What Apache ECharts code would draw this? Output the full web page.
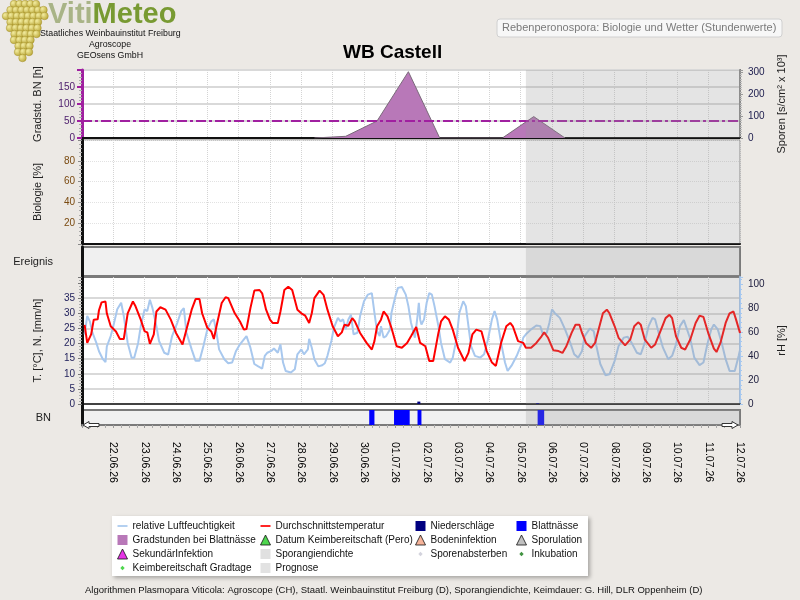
<!DOCTYPE html>
<html>
<head>
<meta charset="utf-8">
<title>WB Castell</title>
<script src="https://cdn.jsdelivr.net/npm/echarts@6/dist/echarts.min.js"></script>
<style>
  html, body { margin: 0; padding: 0; background: #ece9e5; }
  #chart { width: 800px; height: 600px; }
</style>
</head>
<body>
<div id="chart"></div>
<script>
// Zeitachse: Stunden ab 21.06.26 00:00
const START = Date.UTC(2026, 5, 21);
const TOTAL_HOURS = 504;
const FORECAST_START = 340;   // Prognose ab 05.07.26 ~04:00

// Durchschnittstemperatur [°C]  [stunde, wert]
const temperature = [
  [2,26.2],[4,20.2],[7,23],[9,27.9],[12,28],[13,31],[15,33.6],[18,33.9],[19,30],[22,25.7],
  [26,24],[29,21.5],[32,21.5],[35,30],[39,33.9],[41,32.3],[45,27.9],[48,24],[50,23.7],[52,19.9],
  [55,23],[57,30.6],[60,32],[64,31.2],[68,27.9],[72,23.5],[77,19.7],[80,24.6],[84,31.2],[87,34.7],
  [90,34.7],[92,30],[96,25.2],[99,24],[101,21.5],[103,25.7],[107,33.4],[110,35.3],[112,35],[117,30],
  [121,27.3],[124,24.6],[126,24.8],[129,31.7],[132,37.5],[136,37.7],[138,36.6],[141,31.2],[144,27.9],[146,26.8],
  [150,26.8],[152,30.6],[155,37.7],[158,38.8],[161,37.7],[165,31.2],[168,30],
  [171,29.2],[174,26.8],[176,30],[178,35],[182,37.5],[185,36.1],[188,31.2],[192,25.7],[196,22.4],[199,23.7],
  [201,26.2],[204,25.9],[207,28.4],[209,27.3],[213,23.5],[218,20.2],[222,18],[224,20.8],[226,25.7],[229,27.9],
  [231,30.6],[234,29],[237,25.2],[241,19.1],[245,18.6],[249,20.2],[252,22.4],[256,25.5],[259,20.2],[263,19.1],
  [266,14.2],[269,14.2],[273,23.5],[275,27.3],[278,29],[281,27.9],[284,24.6],[288,18.6],[293,14.2],[296,16.9],
  [299,23],[302,24.6],[306,24],[310,17.5],[314,13.7],[317,12.6],[321,20.2],[325,25.7],[328,26.8],[330,25.7],
  [334,20.8],[338,20.2],
  [340,18.6],[344,18.6],[348,20.2],[352,22.4],[354,23.7],[357,21.9],[361,17.8],[365,17.5],[368,16.9],[371,19.1],
  [375,23.5],[378,26.2],[381,26.2],[383,23.5],[386,20.2],[390,18.6],[393,20.2],[397,26.8],[399,30],[402,31.2],
  [404,30],[408,25.7],[411,21.9],[416,19.4],[420,21.4],[423,25.7],[426,27],[428,26.2],[431,21.4],[436,18.6],
  [439,19.7],[443,24],[447,28.4],[450,29.5],[452,28.4],[455,22.4],[459,18.6],[462,18],[466,21.4],[470,26.8],
  [473,29.2],[476,28.8],[480,23],[484,18.3],[486,17.2],[489,20.2],[493,26.8],[496,30],[499,30.6],[501,27.9],
  [504,23.5]
];

// relative Luftfeuchtigkeit [%]  [stunde, wert]
const humidity = [
  [2,58],[4,73.5],[6,69],[8,59.5],[11,51],[13,44],[16,37.4],[18,35],[19,48],[22,56.7],
  [24,65],[27,79],[30,84.5],[32,73.4],[35,51],[38,38.7],[40,38.7],[43,51],[45,65],[48,79],
  [50,77.5],[52,87],[54,80],[57,65],[59,52.6],[63,42.8],[66,41.3],[69,56.7],[73,67.8],[76,77.5],
  [78,80],[80,59.5],[84,45.6],[87,36],[90,36],[93,48.4],[96,62.3],[99,69],[101,70.6],[103,59.5],
  [105,45.6],[109,37.4],[112,34],[115,34.6],[118,44.3],[121,49.8],[124,54],[126,56.7],[129,47],[132,33.4],
  [135,31.4],[138,29.6],[140,40.2],[142,42.8],[145,44.3],[147,46.3],[150,42.8],[152,49.8],[154,34.6],[156,27.6],
  [160,26.3],[163,29],[165,41.5],[168,45.6],
  [170,41.5],[173,45.6],[174,54.4],[176,47],[178,37.4],[181,31.4],[184,32.4],[186,34],[188,40.2],[191,52.6],
  [193,63.8],[196,71.9],[198,69],[200,70.6],[202,62.3],[204,70.6],[206,74.6],[208,58.2],[211,59.5],[213,73.4],
  [216,85.8],[219,91.3],[222,92.6],[224,76],[226,60.7],[228,56.7],[229,65],[231,55.4],[233,56.7],[236,62.3],
  [237,76],[240,89.8],[242,96.9],[245,97.7],[248,91.3],[250,81.7],[252,67.8],[255,55.4],[257,73.4],[258,84.5],
  [259,70.6],[260,66.3],[262,70.6],[264,84.5],[266,92.6],[268,91.3],[270,81.7],[273,65],[275,51],[278,37.4],
  [282,34.6],[284,38.7],[287,55.4],[289,76],[292,85.8],[294,81.7],[296,65],[298,48.4],[301,40.2],[305,38.7],
  [308,41.5],[311,54],[314,70.6],[316,77.5],[318,70.6],[321,51],[324,34.6],[326,27.6],[329,32],[333,40.2],
  [337,51],
  [338,55.4],[340,58.2],[344,62.3],[348,65.5],[351,65],[353,58.2],[356,59.5],[358,67.8],[360,79],[362,76],
  [366,71.9],[370,62.3],[374,51],[377,41.5],[380,38.7],[383,44.3],[385,56.7],[389,63],[392,60.7],[394,48.4],
  [397,33.4],[401,24],[404,24.8],[408,36],[411,48.4],[415,55.4],[418,56.2],[421,51],[425,42.8],[428,41.5],
  [431,51],[434,65],[437,71.9],[439,70.6],[442,58.2],[445,47],[449,37.4],[452,40.2],[455,49.8],[458,65],
  [461,70],[462,69],[466,54],[469,38.7],[473,32.4],[476,34.6],[479,49.8],[482,62.3],[484,66.3],[487,62.3],
  [490,51],[493,37.4],[496,27.6],[500,27.6],[503,40.2],[504,45]
];

// Niederschläge [mm/h]
const rain = [[258, 0.8], [349, 0.3]];

// Blattnässe: [von stunde, bis stunde, 1]
const leafWetness = [[220, 224, 1], [239, 251, 1], [257, 260, 1], [349, 354, 1]];

// Gradstunden bei Blattnässe [h], täglich
const degreeHours = [[178,0],[202,5],[226,50],[250,195],[274,0],[298,0],[322,0],[346,63],[370,0]];
const infectionThreshold = 50;

const FONT = 'Liberation Sans, Arial, sans-serif';

function dateLabel(h) {
  const d = new Date(START + h * 3600000);
  const p = n => String(n).padStart(2, '0');
  return p(d.getUTCDate()) + '.' + p(d.getUTCMonth() + 1) + '.' + String(d.getUTCFullYear()).slice(2);
}

function xAxisFor(i, extra) {
  return Object.assign({
    type: 'value', gridIndex: i, min: 0, max: TOTAL_HOURS, interval: 24,
    axisLine: {show: false},
    axisTick: {show: false},
    axisLabel: {show: false},
    splitLine: {show: true, lineStyle: {color: '#d4d4d4', type: 'dotted', width: 1}}
  }, extra || {});
}

const leftName = {fontSize: 11, color: '#222', fontFamily: FONT};

// Prognose-Bereich als halbtransparente Fläche über dem jeweiligen Panel
function forecastOverlay(xi, yi) {
  return {
    type: 'custom', name: 'Prognose', xAxisIndex: xi, yAxisIndex: yi, z: 20, silent: true,
    data: [[FORECAST_START, TOTAL_HOURS, 0]],
    encode: {x: [0, 1], y: 2},
    renderItem: (params, api) => {
      const x0 = api.coord([api.value(0), 0])[0];
      const x1 = api.coord([api.value(1), 0])[0];
      const cs = params.coordSys;
      return {
        type: 'rect',
        shape: {x: x0, y: cs.y, width: x1 - x0, height: cs.height},
        style: {fill: 'rgba(150,150,150,0.26)'}
      };
    }
  };
}

function emptySeries(name) {
  return {type: 'scatter', name, xAxisIndex: 2, yAxisIndex: 3, data: []};
}

const lineIcon = 'path://M0,0H14V2.4H0Z';
const dotIcon = 'path://M0,0M10,10M5,2.8L7.2,5L5,7.2L2.8,5Z';
const tri = (color) => ({icon: 'triangle', itemStyle: {color, borderColor: '#111', borderWidth: 1}});

function legendCol(left, items) {
  return {
    orient: 'vertical', left, top: 519, padding: 0, itemWidth: 10, itemHeight: 10, itemGap: 0,
    selectedMode: false,
    textStyle: {fontSize: 10, color: '#111', fontFamily: FONT, lineHeight: 14},
    data: items
  };
}

// Weintrauben-Logo (Deko)
const grapes = [];
const rows = [[4, 12, 36], [10, 6, 42], [16, 4, 43], [22, 6, 41], [28, 8, 38], [34, 10, 35],
              [40, 12, 32], [46, 14, 30], [52, 16, 28], [58, 18, 25]];
rows.forEach(([y, x0, x1], r) => {
  for (let x = x0 + (r % 2) * 2.5; x <= x1; x += 5.5) {
    grapes.push({
      type: 'circle', shape: {cx: x, cy: y, r: 3.8},
      style: {
        fill: {type: 'radial', x: 0.35, y: 0.35, r: 0.8,
               colorStops: [{offset: 0, color: '#f3eca0'}, {offset: 1, color: '#b09c26'}]},
        stroke: '#9a8418', lineWidth: 0.4
      }
    });
  }
});

const chart = echarts.init(document.getElementById('chart'));

chart.setOption({
  animation: false,
  backgroundColor: '#ece9e5',
  textStyle: {fontFamily: FONT},
  title: {
    text: 'WB Castell', left: 338, top: 38,
    textStyle: {fontSize: 19, fontWeight: 'bold', color: '#000', fontFamily: FONT}
  },
  grid: [
    {left: 82, right: 60, top: 70, height: 68, show: true, backgroundColor: '#fff', borderColor: '#6e6e6e', borderWidth: 2},
    {left: 82, right: 60, top: 140, height: 104, show: true, backgroundColor: '#fff', borderColor: '#8a8a8a', borderWidth: 1},
    {left: 82, right: 60, top: 247, height: 29, show: true, backgroundColor: '#f0f0f0', borderColor: '#7a7a7a', borderWidth: 2},
    {left: 82, right: 60, top: 277, height: 127, show: true, backgroundColor: '#fff', borderColor: '#7a7a7a', borderWidth: 2},
    {left: 82, right: 60, top: 410, height: 15, show: true, backgroundColor: '#f0f0f0', borderColor: '#7a7a7a', borderWidth: 2},
    {left: 82, right: 60, top: 405, height: 4, show: true, backgroundColor: '#fff', borderWidth: 0}
  ],
  xAxis: [
    xAxisFor(0, {axisLine: {show: true, onZero: false, lineStyle: {color: '#111', width: 2}}}),
    xAxisFor(1, {axisLine: {show: true, onZero: false, lineStyle: {color: '#111', width: 2}}}),
    xAxisFor(2, {splitLine: {show: false}}),
    xAxisFor(3, {axisLine: {show: true, onZero: false, lineStyle: {color: '#111', width: 1.5}}}),
    xAxisFor(4, {
      splitLine: {show: false},
      axisLine: {show: true, onZero: false, lineStyle: {color: '#7a7a7a', width: 2}},
      axisTick: {show: true, length: 3, lineStyle: {color: '#999'}},
      minorTick: {show: true, splitNumber: 4, length: 3, lineStyle: {color: '#aaa'}},
      axisLabel: {show: true, rotate: -90, margin: 17, fontSize: 10.5, color: '#000',
                  fontFamily: FONT, formatter: dateLabel, showMinLabel: false}
    }),
    xAxisFor(5, {splitLine: {show: false}})
  ],
  yAxis: [
    { // 0: Gradstunden
      type: 'value', gridIndex: 0, min: 0, max: 200, interval: 50, position: 'left',
      name: 'Gradstd. BN [h]', nameLocation: 'middle', nameGap: 39, nameTextStyle: leftName,
      axisLine: {show: true, lineStyle: {color: '#a020a0', width: 3}},
      axisTick: {show: true, length: 5, lineStyle: {color: '#a020a0', width: 2}},
      minorTick: {show: true, splitNumber: 5, length: 3, lineStyle: {color: '#aaa'}},
      axisLabel: {fontSize: 10, margin: 7, color: '#4a1a6a', formatter: v => (v < 200 ? v : '')},
      splitLine: {show: true, lineStyle: {color: '#d9d9d9', width: 2}}
    },
    { // 1: Sporen
      type: 'value', gridIndex: 0, min: 0, max: 310, interval: 100, position: 'right',
      name: 'Sporen [s/cm² x 10³]', nameLocation: 'middle', nameGap: 36, nameTextStyle: leftName,
      axisLine: {show: true, lineStyle: {color: '#8a8a8a', width: 2}},
      axisTick: {show: true, length: 3, lineStyle: {color: '#999'}},
      minorTick: {show: true, splitNumber: 10, length: 2, lineStyle: {color: '#bbb'}},
      axisLabel: {fontSize: 10, margin: 8, color: '#202050', formatter: v => (v % 100 === 0 ? v : '')},
      splitLine: {show: false}
    },
    { // 2: Biologie
      type: 'value', gridIndex: 1, min: 0, max: 100, interval: 20,
      name: 'Biologie [%]', nameLocation: 'middle', nameGap: 39, nameTextStyle: leftName,
      axisLine: {show: true, lineStyle: {color: '#111', width: 3}},
      axisTick: {show: true, length: 4, lineStyle: {color: '#888'}},
      minorTick: {show: true, splitNumber: 5, length: 3, lineStyle: {color: '#aaa'}},
      axisLabel: {fontSize: 10, margin: 7, color: '#7a4a10', formatter: v => (v > 0 && v < 100 ? v : '')},
      splitLine: {show: true, lineStyle: {color: '#e2e2e2', type: 'dotted'}}
    },
    { // 3: Ereignis
      type: 'value', gridIndex: 2, min: 0, max: 1,
      name: 'Ereignis', nameLocation: 'middle', nameRotate: 0, nameGap: 29,
      nameTextStyle: {fontSize: 11, color: '#222', fontFamily: FONT},
      axisLine: {show: true, lineStyle: {color: '#111', width: 3}},
      axisTick: {show: false}, axisLabel: {show: false}, splitLine: {show: false}
    },
    { // 4: Temperatur / Niederschlag
      type: 'value', gridIndex: 3, min: 0, max: 42, interval: 5,
      name: 'T. [°C], N. [mm/h]', nameLocation: 'middle', nameGap: 39, nameTextStyle: leftName,
      axisLine: {show: true, lineStyle: {color: '#111', width: 3}},
      axisTick: {show: true, length: 4, lineStyle: {color: '#777'}},
      minorTick: {show: true, splitNumber: 5, length: 3, lineStyle: {color: '#aaa'}},
      axisLabel: {fontSize: 10, margin: 7, color: '#1e1e5a', formatter: v => (v <= 35 ? v : '')},
      splitLine: {show: true, lineStyle: {width: 2, color: [
        '#d9d9d9', '#d9d9d9', '#d9d9d9', '#d9d9d9', '#d9d9d9', '#d9d9d9', '#d9d9d9', '#d9d9d9',
        'rgba(0,0,0,0)', 'rgba(0,0,0,0)']}}
    },
    { // 5: rel. Feuchte
      type: 'value', gridIndex: 3, min: 0, max: 106, interval: 20, position: 'right',
      name: 'rH [%]', nameLocation: 'middle', nameGap: 36, nameTextStyle: leftName,
      axisLine: {show: true, lineStyle: {color: '#a8c8ee', width: 2}},
      axisTick: {show: true, length: 3, lineStyle: {color: '#a8c8ee'}},
      minorTick: {show: true, splitNumber: 5, length: 2, lineStyle: {color: '#a8c8ee'}},
      axisLabel: {fontSize: 10, margin: 8, color: '#202040', formatter: v => (v % 20 === 0 && v <= 100 ? v : '')},
      splitLine: {show: false}
    },
    { // 6: Blattnässe
      type: 'value', gridIndex: 4, min: 0, max: 1,
      name: 'BN', nameLocation: 'middle', nameRotate: 0, nameGap: 31,
      nameTextStyle: {fontSize: 11, color: '#222', fontFamily: FONT},
      axisLine: {show: true, lineStyle: {color: '#111', width: 3}},
      axisTick: {show: false}, axisLabel: {show: false}, splitLine: {show: false}
    },
    { // 7: Streifen unter der Nulllinie
      type: 'value', gridIndex: 5, min: 0, max: 1,
      axisLine: {show: true, lineStyle: {color: '#111', width: 3}},
      axisTick: {show: false}, axisLabel: {show: false}, splitLine: {show: false}
    }
  ],
  legend: [
    legendCol(117, [
      {name: 'relative Luftfeuchtigkeit', icon: lineIcon, itemStyle: {color: '#a8c8ee'}},
      {name: 'Gradstunden bei Blattnässe', icon: 'rect', itemStyle: {color: '#b878b8'}},
      Object.assign({name: 'SekundärInfektion'}, tri('#e000e0')),
      {name: 'Keimbereitschaft Gradtage', icon: dotIcon, itemStyle: {color: '#22cc22'}}
    ]),
    legendCol(260, [
      {name: 'Durchschnittstemperatur', icon: lineIcon, itemStyle: {color: '#ff0000'}},
      Object.assign({name: 'Datum Keimbereitschaft (Pero)'}, tri('#22cc22')),
      {name: 'Sporangiendichte', icon: 'rect', itemStyle: {color: '#d8d8d8'}},
      {name: 'Prognose', icon: 'rect', itemStyle: {color: '#e2e2e2'}}
    ]),
    legendCol(415, [
      {name: 'Niederschläge', icon: 'rect', itemStyle: {color: '#000080'}},
      Object.assign({name: 'Bodeninfektion'}, tri('#f4a080')),
      {name: 'Sporenabsterben', icon: dotIcon, itemStyle: {color: '#c8c8d4'}}
    ]),
    legendCol(516, [
      {name: 'Blattnässe', icon: 'rect', itemStyle: {color: '#0000ff'}},
      Object.assign({name: 'Sporulation'}, tri('#b0b0b0')),
      {name: 'Inkubation', icon: dotIcon, itemStyle: {color: '#117711'}}
    ])
  ],
  graphic: [
    {type: 'group', left: 2, top: 0, children: grapes},
    {type: 'text', left: 48, top: 0, style: {
      text: '{a|Viti}{b|Meteo}',
      rich: {
        a: {fontSize: 29, fontWeight: 'bold', fontFamily: FONT, fill: '#a9b487'},
        b: {fontSize: 29, fontWeight: 'bold', fontFamily: FONT, fill: '#789a32'}
      }
    }},
    {type: 'text', left: 40, top: 29, style: {text: 'Staatliches Weinbauinstitut Freiburg', fontSize: 8.8, fontFamily: FONT, fill: '#111'}},
    {type: 'text', x: 110, y: 40, style: {text: 'Agroscope', fontSize: 8.8, fontFamily: FONT, fill: '#111', align: 'center'}},
    {type: 'text', x: 110, y: 51, style: {text: 'GEOsens GmbH', fontSize: 8.8, fontFamily: FONT, fill: '#111', align: 'center'}},
    {type: 'rect', shape: {x: 497, y: 19, width: 285, height: 18, r: 3},
     style: {fill: '#f7f7f7', stroke: '#d0d0d0', lineWidth: 1}},
    {type: 'text', x: 502, y: 22, style: {text: 'Rebenperonospora: Biologie und Wetter (Stundenwerte)',
      fontSize: 11, fontFamily: FONT, fill: '#7a7a7a'}},
    {type: 'rect', z: -1, shape: {x: 112, y: 516, width: 476, height: 60},
     style: {fill: '#fff', shadowBlur: 4, shadowOffsetX: 2, shadowOffsetY: 2, shadowColor: 'rgba(0,0,0,0.3)'}},
    {type: 'text', x: 85, y: 585, style: {
      text: 'Algorithmen Plasmopara Viticola: Agroscope (CH), Staatl. Weinbauinstitut Freiburg (D), Sporangiendichte, Keimdauer: G. Hill, DLR Oppenheim (D)',
      fontSize: 9.5, fontFamily: FONT, fill: '#111'}},
    {type: 'polygon', z: 30, shape: {points: [[83, 425], [89, 421.5], [89, 423.5], [99, 423.5], [99, 426.5], [89, 426.5], [89, 428.5]]},
     style: {fill: '#fff', stroke: '#333', lineWidth: 1}},
    {type: 'polygon', z: 30, shape: {points: [[738, 425], [732, 421.5], [732, 423.5], [722, 423.5], [722, 426.5], [732, 426.5], [732, 428.5]]},
     style: {fill: '#fff', stroke: '#333', lineWidth: 1}}
  ],
  series: [
    {
      type: 'line', name: 'Gradstunden bei Blattnässe', xAxisIndex: 0, yAxisIndex: 0,
      data: degreeHours, symbol: 'none',
      lineStyle: {color: '#7a6a7a', width: 1},
      itemStyle: {color: '#b878b8'},
      areaStyle: {color: '#b878b8', opacity: 1},
      markLine: {
        silent: true, symbol: 'none', label: {show: false},
        lineStyle: {color: '#a020a0', type: [10, 3, 3, 3], width: 2},
        data: [{yAxis: infectionThreshold}]
      }
    },
    {
      type: 'line', name: 'relative Luftfeuchtigkeit', xAxisIndex: 3, yAxisIndex: 5,
      data: humidity, symbol: 'none',
      lineStyle: {color: '#a8c8ee', width: 2}, itemStyle: {color: '#a8c8ee'}
    },
    {
      type: 'line', name: 'Durchschnittstemperatur', xAxisIndex: 3, yAxisIndex: 4,
      data: temperature, symbol: 'none',
      lineStyle: {color: '#ff0000', width: 2}, itemStyle: {color: '#ff0000'}
    },
    {
      type: 'bar', name: 'Niederschläge', xAxisIndex: 3, yAxisIndex: 4,
      data: rain, barWidth: 3, itemStyle: {color: '#000080'}
    },
    {
      type: 'custom', name: 'Blattnässe', xAxisIndex: 4, yAxisIndex: 6,
      data: leafWetness, encode: {x: [0, 1], y: 2}, itemStyle: {color: '#0000ff'},
      renderItem: (params, api) => {
        const p0 = api.coord([api.value(0), api.value(2)]);
        const p1 = api.coord([api.value(1), 0]);
        return {type: 'rect', shape: {x: p0[0], y: p0[1], width: p1[0] - p0[0], height: p1[1] - p0[1]},
                style: {fill: '#0000ff'}};
      }
    },
    emptySeries('SekundärInfektion'),
    emptySeries('Keimbereitschaft Gradtage'),
    emptySeries('Datum Keimbereitschaft (Pero)'),
    emptySeries('Sporangiendichte'),
    emptySeries('Bodeninfektion'),
    emptySeries('Sporenabsterben'),
    emptySeries('Sporulation'),
    emptySeries('Inkubation'),
    forecastOverlay(0, 0),
    forecastOverlay(1, 2),
    forecastOverlay(2, 3),
    forecastOverlay(3, 4),
    forecastOverlay(4, 6),
    forecastOverlay(5, 7)
  ]
});
</script>
</body>
</html>
